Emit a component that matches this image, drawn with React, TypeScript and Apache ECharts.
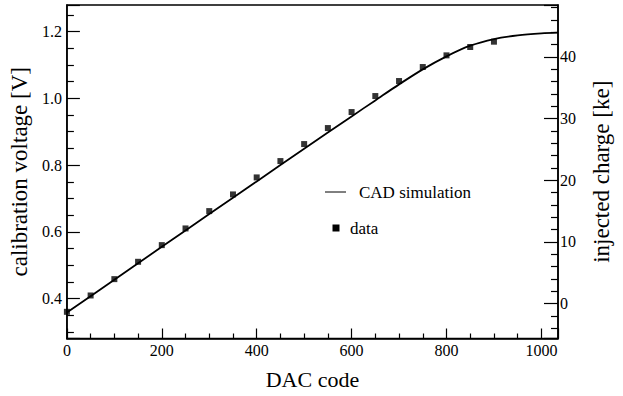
import React, { useEffect, useRef } from "react";
import * as echarts from "echarts";

const dacCodes = [0, 50, 100, 150, 200, 250, 300, 350, 400, 450, 500, 550, 600, 650, 700, 750, 800, 850, 900];
const dataVoltage = [0.36, 0.409, 0.458, 0.51, 0.56, 0.61, 0.662, 0.712, 0.763, 0.812, 0.863, 0.911, 0.959, 1.007, 1.052, 1.094, 1.129, 1.154, 1.17];
const simCodes = [0, 100, 200, 300, 400, 500, 600, 650, 700, 750, 800, 850, 900, 950, 1000, 1035];
const simVoltage = [0.358, 0.456, 0.555, 0.653, 0.751, 0.849, 0.946, 0.994, 1.042, 1.087, 1.126, 1.158, 1.178, 1.189, 1.195, 1.197];

const legendLabels = ["CAD simulation", "data"];

const X_MAX = 1035;
const V_MIN = 0.28;
const V_MAX = 1.28;
const V_ZERO_CHARGE = 0.385; // voltage that corresponds to 0 ke
const KE_PER_VOLT = 54.1;

const FONT = "'Liberation Serif', 'Times New Roman', serif";

export default function App() {
  const ref = useRef<HTMLDivElement>(null);
  useEffect(() => {
    if (!ref.current) return;
    const chart = echarts.init(ref.current, null, { renderer: "svg" });
    const black = "#000";
    chart.setOption({
      animation: false,
      textStyle: { fontFamily: FONT },
      grid: { left: 65, top: 5, width: 493, height: 333.5, show: true, borderColor: black, borderWidth: 1.5, backgroundColor: "transparent" },
      xAxis: {
        type: "value",
        min: 0,
        max: X_MAX,
        splitNumber: 5,
        name: "DAC code",
        nameLocation: "middle",
        nameGap: 30,
        nameTextStyle: { fontFamily: FONT, fontSize: 22, color: black },
        axisLine: { show: true, onZero: false, lineStyle: { color: black, width: 1.5 } },
        axisTick: { show: true, inside: true, length: 10, lineStyle: { color: black, width: 1.2 } },
        minorTick: { show: true, splitNumber: 4, length: 5, lineStyle: { color: black, width: 1.2 } },
        splitLine: { show: false },
        axisLabel: { fontFamily: FONT, fontSize: 16, color: black, margin: 4, showMaxLabel: false, formatter: (v: number) => String(Math.round(v)) },
      },
      yAxis: [
        {
          type: "value",
          min: V_MIN,
          max: V_MAX,
          splitNumber: 5,
          position: "left",
          name: "calibration voltage [V]",
          nameLocation: "middle",
          nameRotate: 90,
          nameGap: 24.5,
          nameTextStyle: { fontFamily: FONT, fontSize: 23, color: black },
          axisLine: { show: true, onZero: false, lineStyle: { color: black, width: 1.5 } },
          axisTick: { show: true, inside: true, length: 13, lineStyle: { color: black, width: 1.2 } },
          minorTick: { show: true, splitNumber: 4, length: 7, lineStyle: { color: black, width: 1.2 } },
          splitLine: { show: false },
          axisLabel: { fontFamily: FONT, fontSize: 16, color: black, margin: 5, showMinLabel: false, showMaxLabel: false, formatter: (v: number) => v.toFixed(1) },
        },
        {
          type: "value",
          min: (V_MIN - V_ZERO_CHARGE) * KE_PER_VOLT,
          max: (V_MAX - V_ZERO_CHARGE) * KE_PER_VOLT,
          splitNumber: 5,
          position: "right",
          name: "injected charge [ke]",
          nameLocation: "middle",
          nameRotate: 90,
          nameGap: 32,
          nameTextStyle: { fontFamily: FONT, fontSize: 23, color: black },
          axisLine: { show: true, onZero: false, lineStyle: { color: black, width: 1.5 } },
          axisTick: { show: true, inside: true, length: 14, lineStyle: { color: black, width: 1.2 } },
          minorTick: { show: true, splitNumber: 5, length: 7, lineStyle: { color: black, width: 1.2 } },
          splitLine: { show: false },
          axisLabel: { fontFamily: FONT, fontSize: 16, color: black, margin: 2, showMinLabel: false, showMaxLabel: false, formatter: (v: number) => String(Math.round(v)) },
        },
      ],
      series: [
        {
          name: legendLabels[0],
          type: "line",
          yAxisIndex: 0,
          data: simCodes.map((c, i) => [c, simVoltage[i]]),
          showSymbol: false,
          symbol: "none",
          smooth: 0.3,
          lineStyle: { color: black, width: 1.8 },
          z: 2,
        },
        {
          name: legendLabels[1],
          type: "scatter",
          yAxisIndex: 0,
          data: dacCodes.map((c, i) => [c, dataVoltage[i]]),
          symbol: "rect",
          symbolSize: 6,
          itemStyle: { color: black },
          z: 3,
        },
      ],
      graphic: [
        { type: "line", shape: { x1: 325, y1: 192, x2: 346, y2: 192 }, style: { stroke: black, lineWidth: 1 } },
        { type: "text", x: 359, y: 192, style: { text: legendLabels[0], fontFamily: FONT, fontSize: 17, fill: black, verticalAlign: "middle", align: "left" } },
        { type: "rect", shape: { x: 332.5, y: 224.5, width: 7, height: 7 }, style: { fill: black } },
        { type: "text", x: 350, y: 228, style: { text: legendLabels[1], fontFamily: FONT, fontSize: 17, fill: black, verticalAlign: "middle", align: "left" } },
      ],
    });
    return () => chart.dispose();
  }, []);
  return <div ref={ref} style={{ position: "fixed", left: 0, top: 0, width: 623, height: 396, background: "#fff" }} />;
}
